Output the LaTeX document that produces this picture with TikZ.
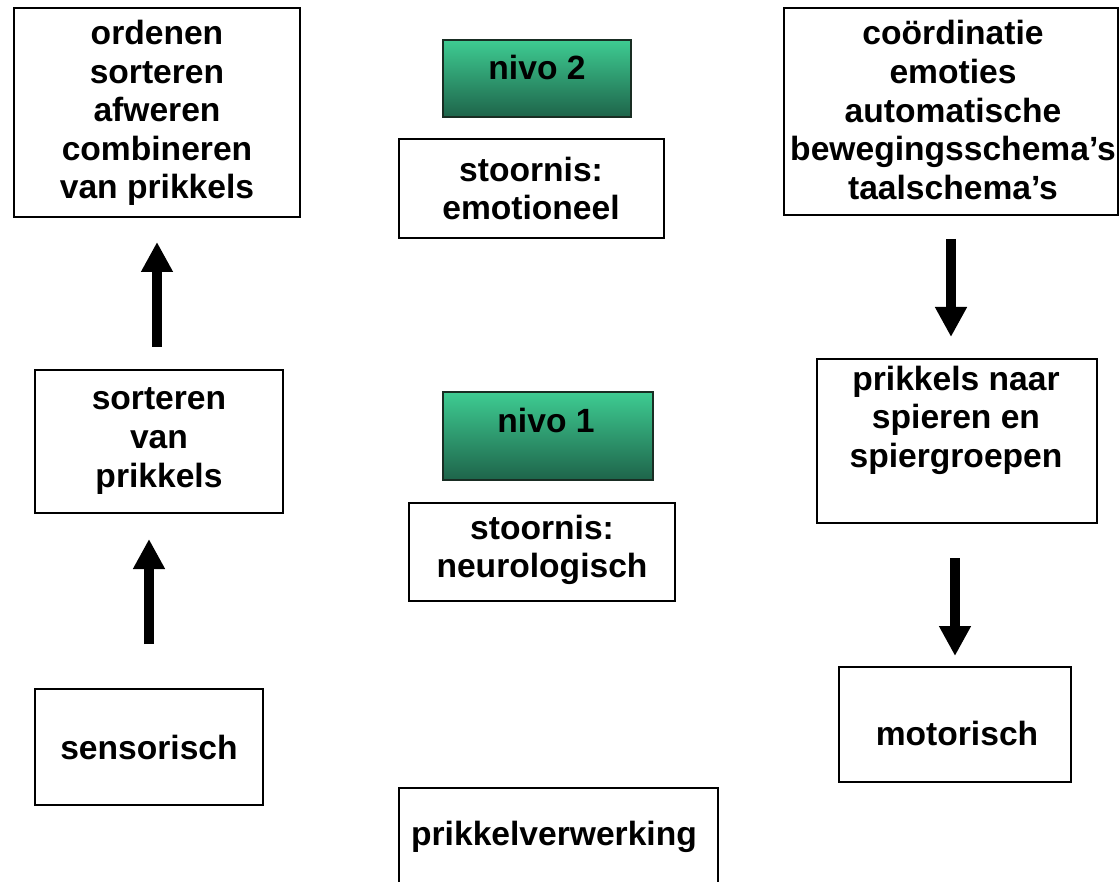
\documentclass[tikz,border=0pt]{standalone}
\usepackage{fontspec}
\setmainfont{Liberation Sans}
\usetikzlibrary{fit,arrows.meta,calc}
\definecolor{nivotop}{RGB}{62,204,146}
\definecolor{nivobot}{RGB}{30,100,74}
\definecolor{nivoline}{RGB}{25,45,35}
\begin{document}
\begin{tikzpicture}[x=0.5pt,y=-0.5pt,
  box/.style={draw=black, line width=1pt, inner sep=0pt, fill=white},
  nivo/.style={draw=nivoline, line width=1pt, inner sep=0pt, top color=nivotop, bottom color=nivobot},
  txt/.style={font=\bfseries\fontsize{16.8}{19.3}\selectfont, align=center, inner sep=0pt},
  bigarrow/.style={line width=5pt, -{Triangle[width=15pt,length=15pt]}}]
\useasboundingbox (0,0) rectangle (1120,882);
\fill[white] (0,0) rectangle (1120,882);
\clip (0,0) rectangle (1120,882);
% left column
\node[box, fit={(14,8) (300,217)}] (A) {};
\node[txt] (tA) at (157,113) {ordenen\\sorteren\\afweren\\combineren\\van prikkels};
\node[box, fit={(35,370) (283,513)}] (B) {};
\node[txt] (tB) at (159,441) {sorteren\\van\\prikkels};
\node[box, fit={(35,689) (263,805)}] (C) {};
\node[txt] (tC) at (149,747) {sensorisch};
% middle column
\node[nivo, fit={(443,40) (631,117)}] (N2) {};
\node[txt] (tN2) at (537,67) {nivo 2};
\node[box, fit={(399,139) (664,238)}] (S2) {};
\node[txt] (tS2) at (531,188.5) {stoornis:\\emotioneel};
\node[nivo, fit={(443,392) (653,480)}] (N1) {};
\node[txt] (tN1) at (546,420) {nivo 1};
\node[box, fit={(409,503) (675,601)}] (S1) {};
\node[txt] (tS1) at (542,550) {stoornis:\\neurologisch};
\node[box, fit={(399,788) (718,900)}] (G) {};
\node[txt] (tG) at (554,837) {prikkelverwerking};
% right column
\node[box, fit={(784,8) (1118,215)}] (D) {};
\node[txt] (tD) at (953,110) {coördinatie\\emoties\\automatische\\bewegingsschema’s\\taalschema’s};
\node[box, fit={(817,359) (1097,523)}] (E) {};
\node[txt] (tE) at (956,420) {prikkels naar\\spieren en\\spiergroepen};
\node[box, fit={(839,667) (1071,782)}] (F) {};
\node[txt] (tF) at (957,733) {motorisch};
% arrows
\draw[bigarrow, shorten <=11pt, shorten >=12pt] (A.south |- B.north) -- (A.south);
\draw[bigarrow, shorten <=22pt, shorten >=12.5pt] (C.north) -- (C.north |- B.south);
\draw[bigarrow, shorten <=11.5pt, shorten >=10.5pt] (D.south) -- (D.south |- E.north);
\draw[bigarrow, shorten <=17pt, shorten >=5pt] (F.north |- E.south) -- (F.north);
\end{tikzpicture}
\end{document}
